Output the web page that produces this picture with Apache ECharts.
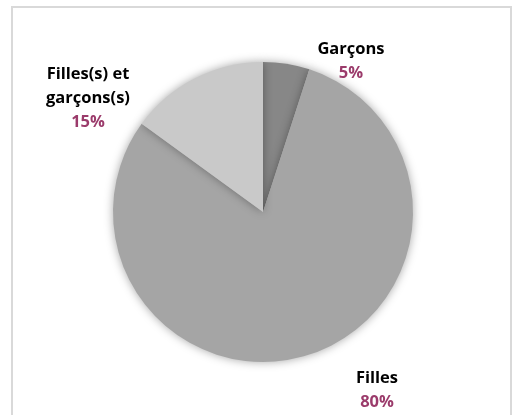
<!DOCTYPE html>
<html>
<head>
<meta charset="utf-8">
<script src="https://cdn.jsdelivr.net/npm/echarts@6/dist/echarts.min.js"></script>
<style>
  html, body { margin: 0; padding: 0; background: #ffffff; }
  #chart { width: 514px; height: 415px; }
</style>
</head>
<body>
<div id="chart"></div>
<script>
// Répartition par catégorie
const categories = ['Garçons', 'Filles', 'Filles(s) et\ngarçons(s)'];
const values = [5, 80, 15];
const sliceColors = ['#878787', '#a5a5a5', '#c9c9c9'];
// Label anchor points (centre of each text block, in px)
const labelPos = [[351, 61], [377, 390], [88, 98]];

const chart = echarts.init(document.getElementById('chart'), null, { renderer: 'canvas' });

const data = categories.map((name, i) => ({
  name: name,
  value: values[i],
  itemStyle: { color: sliceColors[i] }
}));

chart.setOption({
  backgroundColor: '#ffffff',
  animation: false,
  graphic: [{
    type: 'rect',
    shape: { x: 12, y: 7, width: 499, height: 430 },
    style: { fill: 'none', stroke: '#d9d9d9', lineWidth: 2 },
    silent: true
  }],
  series: [{
    type: 'pie',
    center: [263, 212],
    radius: 150,
    startAngle: 90,
    clockwise: true,
    data: data,
    itemStyle: {
      shadowBlur: 10,
      shadowColor: 'rgba(0,0,0,0.35)',
      borderWidth: 0
    },
    label: {
      show: true,
      position: 'outside',
      formatter: p => '{n|' + p.name + '}\n{v|' + p.value + '%}',
      rich: {
        n: { fontFamily: 'Open Sans', fontWeight: 'bold', fontSize: 16.5, color: '#000000', lineHeight: 24, align: 'center' },
        v: { fontFamily: 'Open Sans', fontWeight: 'bold', fontSize: 16.5, color: '#9b3b6b', lineHeight: 24, align: 'center' }
      },
      align: 'center'
    },
    labelLine: { show: false },
    labelLayout: function (params) {
      const p = labelPos[params.dataIndex];
      return { x: p[0], y: p[1], align: 'center', verticalAlign: 'middle' };
    },
    emphasis: { disabled: true }
  }]
});
</script>
</body>
</html>
